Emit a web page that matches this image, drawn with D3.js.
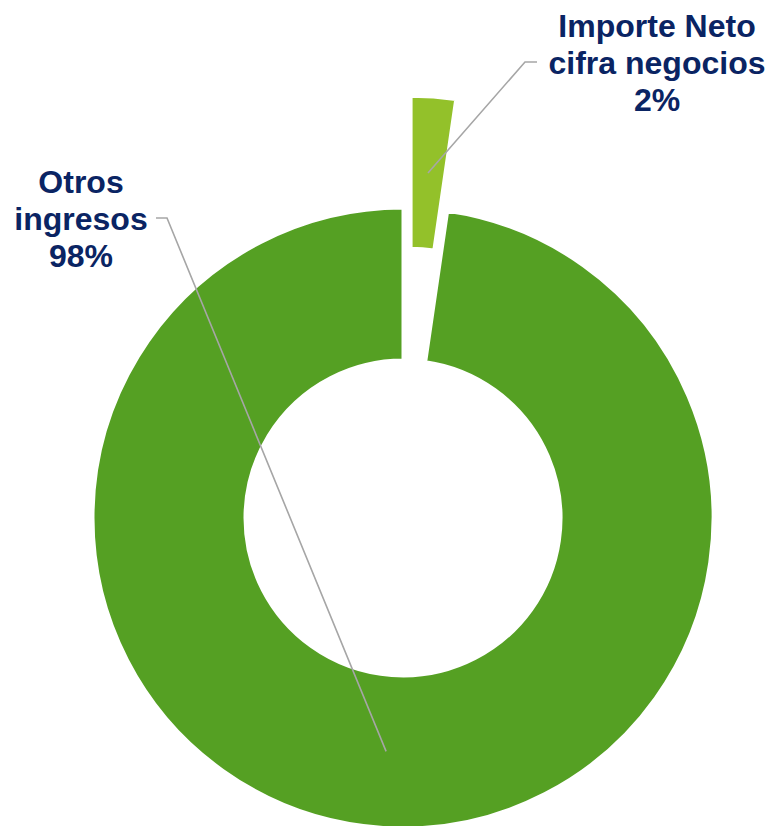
<!DOCTYPE html>
<html>
<head>
<meta charset="utf-8">
<script src="https://cdn.jsdelivr.net/npm/d3@7"></script>
<style>
    body { margin: 0; background: #fff; }
    .label { font-family: Arial, "Liberation Sans", sans-serif; font-weight: bold; font-size: 32px; fill: #0a2463; }
    .leader { fill: none; stroke: #a6a6a6; stroke-width: 1.6; }
</style>
</head>
<body>
<div id="chart"></div>
<script>
// chart data
var categories = ["Importe Neto cifra negocios", "Otros ingresos"];
var values = [2.3, 97.7];
var labelLines = [["Importe Neto", "cifra negocios", "2%"], ["Otros", "ingresos", "98%"]];
var colors = ["#93c12a", "#55a023"];

function init() {

    var width = 773;
    var height = 826;
    var cx = 403, cy = 518;
    var outerR = 310, innerR = 158;
    var explode = [112, 0];

    // where each label sits: text centre, first baseline, leader elbow and end
    var labelPos = [
        { x: 657, y: 37, elbow: [525, 62], end: [537, 62] },
        { x: 81, y: 193, elbow: [167, 218], end: [156, 218] }
    ];

    var svg = d3.select("#chart")
        .append("svg")
        .attr("width", width)
        .attr("height", height);

    var pie = d3.pie().sort(null).value(function (d) { return d; });
    var arc = d3.arc().innerRadius(innerR).outerRadius(outerR);

    var arcs = pie(values);

    var g = svg.append("g")
        .attr("transform", "translate(" + cx + "," + cy + ")");

    // offset along the slice's middle angle
    function shift(d, i) {
        var mid = (d.startAngle + d.endAngle) / 2;
        return [Math.sin(mid) * explode[i], -Math.cos(mid) * explode[i]];
    }

    g.selectAll(".slice")
        .data(arcs)
        .enter()
        .append("path")
        .attr("class", "slice")
        .attr("d", arc)
        .attr("transform", function (d, i) {
            var s = shift(d, i);
            return "translate(" + s[0] + "," + s[1] + ")";
        })
        .style("fill", function (d, i) { return colors[i]; })
        .style("stroke", "#fff")
        .style("stroke-width", 3);

    // leader lines
    svg.selectAll(".leader")
        .data(arcs)
        .enter()
        .append("polyline")
        .attr("class", "leader")
        .attr("points", function (d, i) {
            var c = arc.centroid(d);
            var s = shift(d, i);
            var p = labelPos[i];
            return [[cx + c[0] + s[0], cy + c[1] + s[1]], p.elbow, p.end]
                .map(function (q) { return q.join(","); }).join(" ");
        });

    // labels
    var labels = svg.selectAll(".label")
        .data(categories)
        .enter()
        .append("text")
        .attr("class", "label")
        .attr("text-anchor", "middle")
        .attr("x", function (d, i) { return labelPos[i].x; })
        .attr("y", function (d, i) { return labelPos[i].y; });

    labels.selectAll("tspan")
        .data(function (d, i) { return labelLines[i]; })
        .enter()
        .append("tspan")
        .attr("x", function () { return this.parentNode.getAttribute("x"); })
        .attr("dy", function (d, j) { return j === 0 ? 0 : 37; })
        .text(function (d) { return d; });
}

window.onload = init;
</script>
</body>
</html>
